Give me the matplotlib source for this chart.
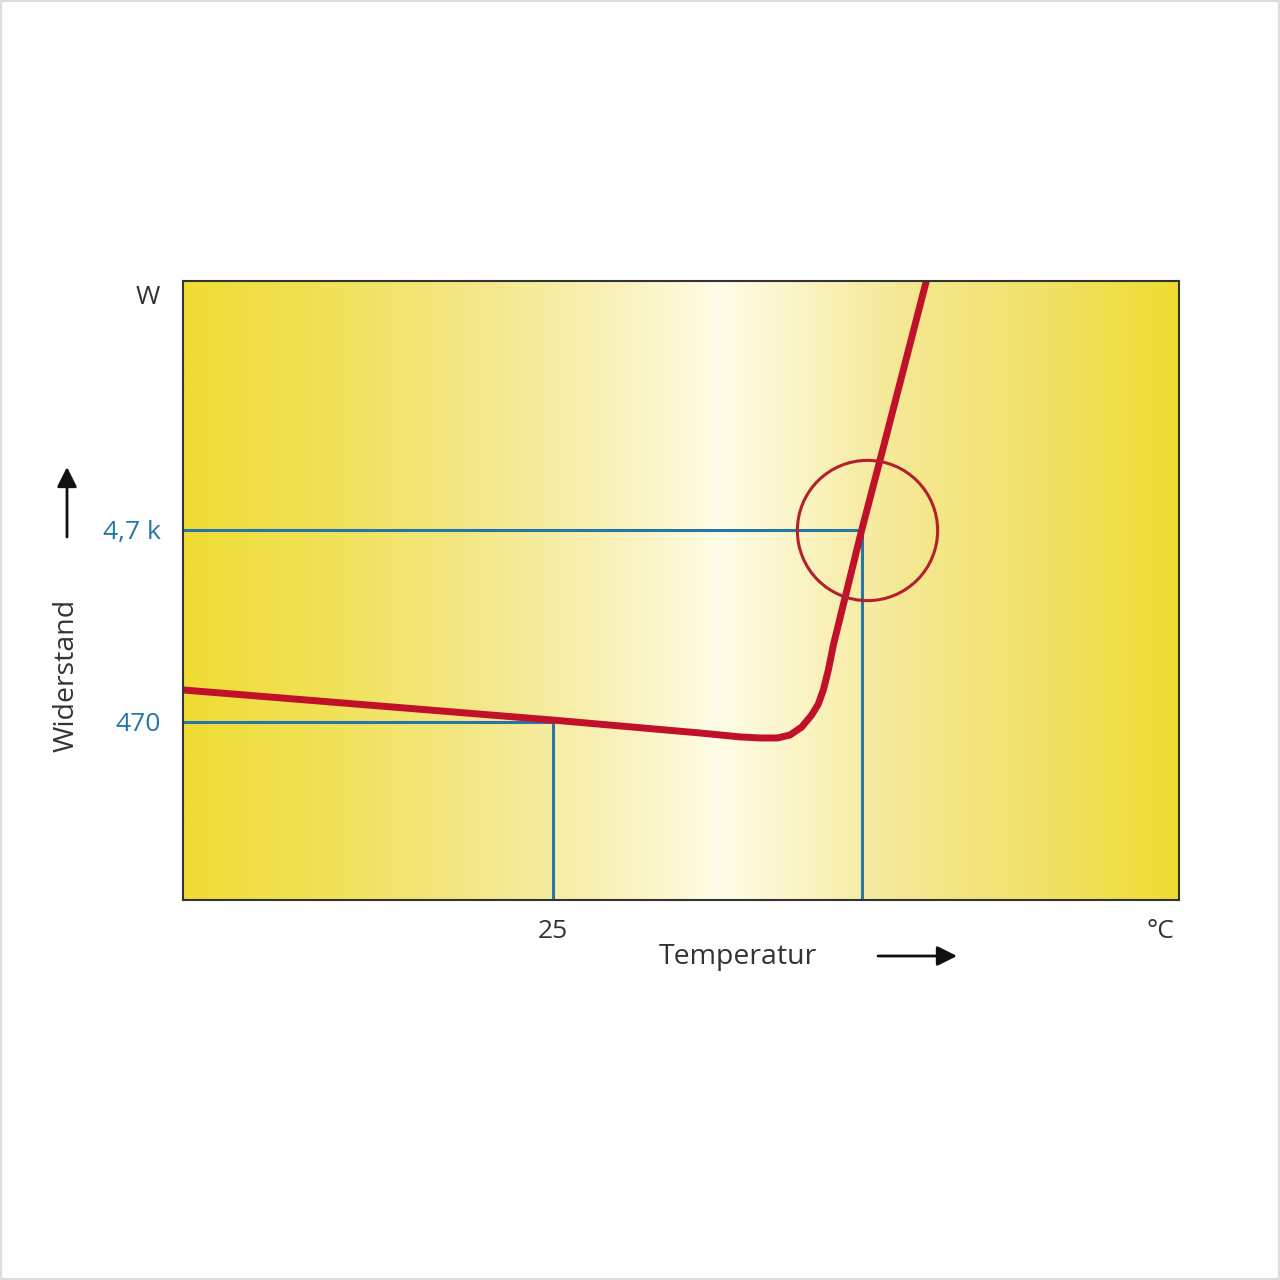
import matplotlib.pyplot as plt
import numpy as np
from matplotlib.colors import LinearSegmentedColormap
from matplotlib.patches import FancyArrowPatch, Rectangle

# PTC thermistor: Widerstand über Temperatur
temp = [-19.3, 25.0, 42.6, 47.4, 49.8, 51.9, 53.4, 54.8, 56.0, 56.8, 57.4,
        58.0, 58.6, 62.0, 64.6, 70.2]
resist = [690, 481, 412, 393, 388, 388, 402, 442, 511, 583, 690,
          876, 1183, 4700, 12720, 111400]

ref_temp = [25, 62]
ref_res = [470, 4700]
ref_labels = ["470", "4,7 k"]
xlim = (-19.3, 100)
ylim = (55.6, 93000)

plt.rcParams['font.family'] = ['Open Sans', 'DejaVu Sans']

fig = plt.figure(figsize=(12.8, 12.8), dpi=100)
fig.patches.append(Rectangle((0, 0), 1, 1, transform=fig.transFigure, fill=False,
                             edgecolor='#dcdcdc', linewidth=3))
ax = fig.add_axes([183 / 1280, 380 / 1280, 996 / 1280, 619 / 1280])
ax.set_yscale('log')
ax.set_xlim(*xlim)
ax.set_ylim(*ylim)

# yellow-white-yellow background
cmap = LinearSegmentedColormap.from_list('bg', [
    (0.0, '#efdc33'), (0.15, '#f1e25a'), (0.3, '#f4e88a'), (0.45, '#faf3c0'),
    (0.54, '#fffde8'), (0.62, '#fbf4c4'), (0.72, '#f5e894'), (0.87, '#f1e266'),
    (1.0, '#efdc30')])
ax.imshow(np.linspace(0, 1, 512)[None, :], cmap=cmap, extent=[0, 1, 0, 1],
          transform=ax.transAxes, aspect='auto', zorder=0)

blue = '#2677a6'
for t, r in zip(ref_temp, ref_res):
    ax.plot([xlim[0], t, t], [r, r, ylim[0]], color=blue, lw=2.2, zorder=2)

ax.plot(temp, resist, color='#c0102a', lw=5, solid_joinstyle='round',
        solid_capstyle='round', zorder=3)
ax.plot(62.6, 4700, marker='o', markersize=101, mfc='none', mec='#b3202c',
        mew=2.2, zorder=4)

for s in ax.spines.values():
    s.set_color('#333333')
    s.set_linewidth(1.5)
    s.set_zorder(5)

ax.set_xticks([25])
ax.set_xticklabels(["25"], fontsize=19, color='#333333')
ax.set_yticks(ref_res)
ax.set_yticklabels(ref_labels, fontsize=19, color=blue)
ax.minorticks_off()
ax.tick_params(length=0, pad=14)
ax.tick_params(axis='y', pad=16)

fig.text(148 / 1280, 1 - 298 / 1280, "W", fontsize=19, color='#333333',
         ha='center', va='center')
fig.text(1160 / 1280, 1 - 932 / 1280, "°C", fontsize=19, color='#333333',
         ha='center', va='center')
fig.text(738 / 1280, 1 - 957 / 1280, "Temperatur", fontsize=20.5, color='#333333',
         ha='center', va='center')
fig.text(67 / 1280, 1 - 675 / 1280, "Widerstand", fontsize=20.5, color='#333333',
         ha='center', va='center', rotation=90)

for p0, p1 in [((878, 956), (957, 956)), ((67, 537), (67, 467))]:
    fig.patches.append(FancyArrowPatch(
        (p0[0] / 1280, 1 - p0[1] / 1280), (p1[0] / 1280, 1 - p1[1] / 1280),
        transform=fig.transFigure, arrowstyle='-|>,head_length=12,head_width=6',
        color='#111111', lw=2, shrinkA=0, shrinkB=0, mutation_scale=1))

fig.savefig('out.png', dpi=100)
